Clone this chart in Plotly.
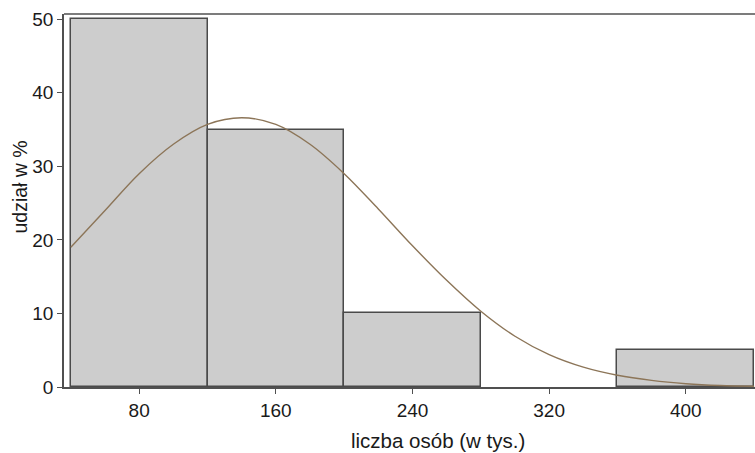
import plotly.graph_objects as go

# Histogram bins (thousands of people) and share in %
bin_left = [40, 120, 200, 280, 360]
bin_right = [120, 200, 280, 360, 440]
share = [50, 35, 10, 0, 5]

# Fitted curve
curve_x = [40, 60, 80, 100, 120, 140, 160, 180, 200, 220, 240, 260, 280, 300,
           320, 340, 360, 380, 400, 420, 440]
curve_y = [19.0, 24.0, 29.0, 33.0, 35.7, 36.6, 35.7, 33.0, 29.0, 24.2, 19.2,
           14.5, 10.3, 6.9, 4.4, 2.7, 1.6, 0.9, 0.45, 0.2, 0.1]

x_ticks = [80, 160, 240, 320, 400]
y_ticks = [0, 10, 20, 30, 40, 50]

# empty bins draw nothing
bars = [((a + b) / 2, b - a, s) for a, b, s in zip(bin_left, bin_right, share) if s > 0]

fig = go.Figure()
fig.add_trace(go.Bar(
    x=[c for c, w, s in bars], y=[s for c, w, s in bars], width=[w for c, w, s in bars],
    marker=dict(color="#cdcdcd", line=dict(color="#4a4a4a", width=1.5)),
    hoverinfo="skip", showlegend=False,
))
fig.add_trace(go.Scatter(
    x=curve_x, y=curve_y, mode="lines",
    line=dict(color="#8c7558", width=1.4, shape="spline"),
    hoverinfo="skip", showlegend=False,
))

font_family = "Liberation Sans, Arial, sans-serif"
fig.update_layout(
    width=755, height=453,
    margin=dict(l=64, r=0, t=14, b=66),
    paper_bgcolor="white", plot_bgcolor="white",
    font=dict(family=font_family, size=19, color="#1a1a1a"),
    bargap=0,
    xaxis=dict(
        range=[36, 440.5], tickvals=x_ticks, ticks="outside", ticklen=5,
        tickcolor="#505050", tickwidth=1.2,
        showline=True, linecolor="#505050", linewidth=1.5, mirror=False,
        showgrid=False, zeroline=False, tickfont=dict(size=19),
    ),
    yaxis=dict(
        range=[0, 50.7], tickvals=y_ticks, ticks="outside", ticklen=5,
        tickcolor="#505050", tickwidth=1.2,
        showline=True, linecolor="#505050", linewidth=1.5,
        showgrid=False, zeroline=False, tickfont=dict(size=19),
    ),
    shapes=[dict(type="line", xref="paper", yref="paper", x0=0, x1=1, y0=1, y1=1,
                 line=dict(color="#505050", width=1.5))],
    annotations=[
        dict(text="liczba osób (w tys.)", xref="paper", yref="paper",
             x=(438.5 - 64) / 691, y=-(440 - 387) / 373, xanchor="center", yanchor="middle",
             showarrow=False, font=dict(size=20.5)),
        dict(text="udział w %", xref="paper", yref="paper",
             x=(19 - 64) / 691, y=(387 - 187.5) / 373, xanchor="center", yanchor="middle",
             textangle=-90, showarrow=False, font=dict(size=19.5)),
    ],
)

fig.write_html("out.html")
